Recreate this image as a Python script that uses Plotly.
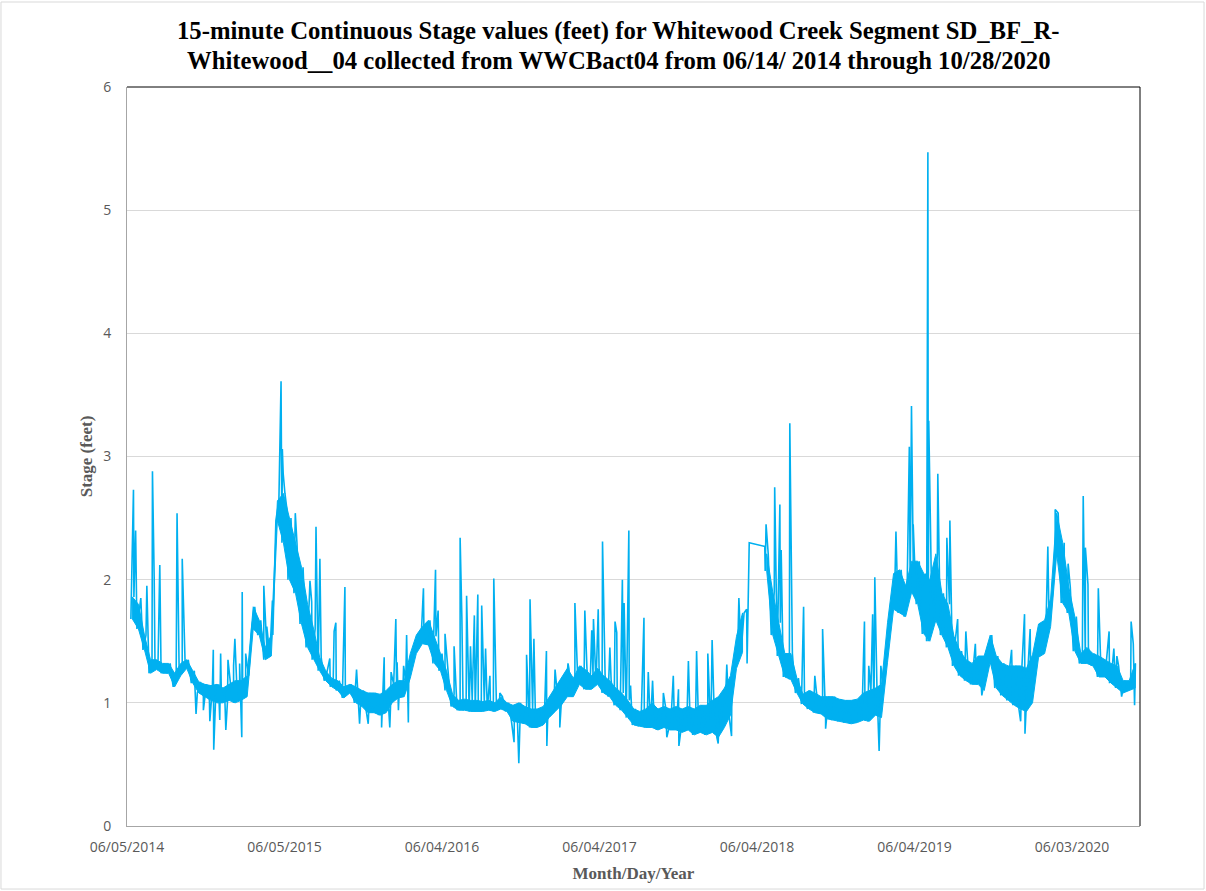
import pandas as pd
import plotly.graph_objects as go

# Record period of the WWCBact04 logger
record_start = pd.Timestamp("2014-06-14")
record_end = pd.Timestamp("2020-10-28")

# Stage envelope (feet) for each 14-day window of the record:
# lower and upper bound of the bulk of the 15-minute readings in that window.
# None marks windows with no logged readings.
band_low = [
    1.68, 1.60, 1.43, 1.24, 1.27, 1.24, 1.24, 1.13, 1.22, 1.28,
    1.16, 1.08, 1.05, 1.02, 1.00, 1.00, 1.02, 1.00, 1.02, 1.05,
    1.60, 1.55, 1.35, 1.38, 2.48, 2.30, 2.00, 1.89, 1.64, 1.45,
    1.35, 1.26, 1.18, 1.13, 1.10, 1.04, 1.08, 1.00, 0.97, 0.92,
    0.92, 0.90, 0.92, 1.00, 1.04, 1.05, 1.20, 1.40, 1.48, 1.47,
    1.32, 1.26, 1.10, 0.97, 0.94, 0.94, 0.93, 0.93, 0.93, 0.94,
    0.93, 0.95, 0.93, 0.85, 0.84, 0.83, 0.80, 0.80, 0.82, 0.88,
    0.93, 0.98, 1.05, 1.05, 1.15, 1.11, 1.11, 1.15, 1.08, 1.05,
    0.98, 0.94, 0.88, 0.82, 0.81, 0.80, 0.80, 0.78, 0.80, 0.78,
    0.78, 0.76, 0.78, 0.74, 0.76, 0.74, 0.76, 0.72, 0.80, 0.90,
    1.28, 1.41, 1.32, None, None, 2.07, 1.55, 1.38, 1.21, 1.19,
    1.08, 0.99, 0.95, 0.92, 0.91, 0.87, 0.86, 0.85, 0.84, 0.83,
    0.84, 0.86, 0.85, 0.90, 0.88, 1.33, 1.76, 1.73, 1.70, 1.90,
    1.80, 1.56, 1.50, 1.67, 1.55, 1.45, 1.30, 1.22, 1.18, 1.15,
    1.15, 1.10, 1.33, 1.12, 1.06, 1.02, 0.98, 0.95, 0.93, 1.00,
    1.37, 1.40, 1.62, 2.21, 1.81, 1.73, 1.42, 1.32, 1.32, 1.30,
    1.21, 1.21, 1.16, 1.12, 1.08, 1.10, 1.12,
]
band_high = [
    1.86, 1.80, 1.55, 1.35, 1.35, 1.32, 1.32, 1.24, 1.32, 1.35,
    1.26, 1.17, 1.15, 1.14, 1.15, 1.12, 1.15, 1.18, 1.18, 1.22,
    1.78, 1.67, 1.45, 1.55, 2.64, 2.70, 2.50, 2.29, 2.10, 1.80,
    1.60, 1.37, 1.26, 1.20, 1.18, 1.13, 1.15, 1.13, 1.10, 1.08,
    1.08, 1.07, 1.10, 1.15, 1.18, 1.18, 1.40, 1.55, 1.62, 1.67,
    1.54, 1.40, 1.26, 1.07, 1.02, 1.03, 1.02, 1.02, 1.01, 1.02,
    1.00, 1.05, 1.00, 0.98, 1.00, 0.97, 0.95, 0.95, 0.97, 1.05,
    1.12, 1.20, 1.28, 1.20, 1.30, 1.27, 1.22, 1.28, 1.22, 1.18,
    1.12, 1.08, 1.02, 0.95, 0.93, 0.95, 1.00, 0.95, 0.97, 0.95,
    0.97, 0.95, 0.97, 0.95, 0.98, 0.98, 1.02, 1.05, 1.12, 1.22,
    1.54, 1.73, None, None, None, 2.21, 1.90, 1.65, 1.40, 1.40,
    1.20, 1.07, 1.10, 1.08, 1.05, 1.05, 1.05, 1.03, 1.02, 1.02,
    1.03, 1.08, 1.10, 1.12, 1.15, 1.65, 2.05, 2.08, 1.95, 2.15,
    2.15, 2.05, 2.00, 2.21, 1.89, 1.80, 1.54, 1.42, 1.35, 1.32,
    1.38, 1.38, 1.55, 1.38, 1.32, 1.30, 1.30, 1.30, 1.28, 1.39,
    1.64, 1.67, 1.85, 2.54, 2.30, 1.94, 1.70, 1.40, 1.45, 1.40,
    1.38, 1.35, 1.32, 1.30, 1.18, 1.18, 1.32,
]

# Short-lived events: storm peaks, drops and level jumps (day of record, feet)
event_day = [
    6, 11, 23, 37, 50, 54, 67, 107, 110, 119,
    151, 168, 183, 191, 192, 206, 208, 220, 225, 238,
    241, 252, 257, 258, 266, 308, 315, 328, 348, 351,
    353, 362, 369, 381, 415, 419, 429, 438, 461, 471,
    475, 496, 523, 530, 550, 581, 587, 600, 603, 614,
    617, 620, 632, 639, 643, 678, 706, 712, 728, 749,
    763, 767, 778, 787, 796, 804, 813, 822, 832, 841,
    855, 888, 899, 917, 925, 934, 963, 964, 983, 994,
    1013, 1029, 1052, 1068, 1072, 1083, 1093, 1110, 1122, 1126,
    1139, 1143, 1154, 1158, 1189, 1199, 1209, 1234, 1242, 1257,
    1269, 1270, 1292, 1311, 1337, 1347, 1361, 1381, 1392, 1409,
    1427, 1433, 1469, 1472, 1492, 1504, 1507, 1527, 1559, 1585,
    1603, 1610, 1700, 1710, 1719, 1724, 1734, 1738, 1773, 1804,
    1809, 1813, 1844, 1847, 1849, 1870, 1891, 1898, 1916, 1935,
    1957, 1972, 2041, 2062, 2071, 2072, 2084, 2125, 2142, 2163,
    2172, 2207, 2212, 2218, 2242, 2267, 2278, 2285, 2296, 2318,
    2323, 2326, 2328,
]
event_stage = [
    2.73, 2.40, 1.85, 1.95, 2.88, 2.02, 2.12, 2.54, 1.64, 2.17,
    0.91, 0.94, 0.85, 1.43, 0.62, 0.86, 1.40, 0.78, 1.35, 1.30,
    1.52, 1.32, 0.72, 1.90, 1.40, 1.95, 1.62, 1.83, 3.61, 3.06,
    2.86, 2.56, 2.29, 2.54, 1.99, 1.82, 2.43, 2.17, 1.36, 1.58,
    1.65, 1.94, 1.27, 0.83, 0.83, 0.80, 1.37, 0.80, 1.25, 1.68,
    1.33, 0.94, 1.30, 1.55, 0.84, 1.93, 2.08, 1.75, 1.56, 1.46,
    2.34, 1.70, 1.87, 1.46, 1.71, 1.88, 1.79, 1.44, 1.22, 2.01,
    1.08, 0.68, 0.51, 1.39, 1.84, 1.52, 1.42, 0.65, 1.27, 0.80,
    1.32, 1.81, 1.75, 1.59, 1.68, 1.76, 2.31, 1.45, 1.66, 1.57,
    2.00, 1.81, 2.40, 1.14, 1.69, 1.25, 1.18, 1.08, 0.72, 1.22,
    1.11, 0.65, 1.34, 1.42, 1.40, 1.51, 0.67, 1.31, 0.73, 1.85,
    1.76, 2.30, 2.27, 2.45, 2.75, 2.61, 2.24, 3.27, 1.78, 1.22,
    1.60, 0.79, 1.66, 1.30, 1.72, 2.02, 0.61, 1.30, 2.39, 3.08,
    3.41, 2.45, 1.50, 5.47, 3.29, 2.86, 2.34, 2.48, 1.68, 1.58,
    1.48, 1.06, 1.43, 0.85, 1.72, 0.75, 1.60, 2.27, 2.57, 2.13,
    2.13, 2.68, 2.26, 1.96, 1.93, 1.58, 1.44, 1.38, 1.05, 1.66,
    1.48, 0.98, 1.32,
]

# Axis tick dates and range
tick_dates = ["2014-06-05", "2015-06-05", "2016-06-04", "2017-06-04",
              "2018-06-04", "2019-06-04", "2020-06-03"]
x_range = ["2014-06-05", "2020-11-07 14:00"]

title_lines = [
    "15-minute Continuous Stage values (feet) for Whitewood Creek Segment SD_BF_R-",
    "Whitewood__04 collected from WWCBact04 from 06/14/ 2014 through 10/28/2020",
]

line_blue = "#00B0F0"
last_day = (record_end - record_start).days


def day_to_date(d):
    return record_start + pd.Timedelta(days=d)


# Continuous record: each window runs from its low to its high,
# with the events merged in time order.
points = []
for k, (lo, hi) in enumerate(zip(band_low, band_high)):
    if lo is not None:
        points.append((14 * k, lo))
    if hi is not None and 14 * k + 7 <= last_day:
        points.append((14 * k + 7, hi))
points += list(zip(event_day, event_stage))
points.sort(key=lambda p: p[0])

dates = [day_to_date(d) for d, _ in points]
stage = [v for _, v in points]

# Dense body of the readings: a ribbon between the window lows and highs
# (placed at each window's midpoint), one ribbon per run of complete windows.
env_x, env_y = [], []
run = []
for k, (lo, hi) in enumerate(list(zip(band_low, band_high)) + [(None, None)]):
    if lo is not None and hi is not None:
        run.append((min(14 * k + 3.5, last_day), lo, hi))
        continue
    if len(run) > 1:
        upper = [(d, h) for d, _, h in run]
        lower = [(d, l) for d, l, _ in reversed(run)]
        for d, v in upper + lower + [upper[0]]:
            env_x.append(day_to_date(d))
            env_y.append(v)
        env_x.append(None)
        env_y.append(None)
    run = []

fig = go.Figure()
fig.add_trace(
    go.Scatter(
        x=env_x,
        y=env_y,
        mode="lines",
        fill="toself",
        fillcolor=line_blue,
        line=dict(color=line_blue, width=1),
        hoverinfo="skip",
    )
)
fig.add_trace(
    go.Scatter(
        x=dates,
        y=stage,
        mode="lines",
        line=dict(color=line_blue, width=1.6),
        hovertemplate="%{x|%m/%d/%Y}<br>%{y:.2f} ft<extra></extra>",
    )
)

axis_gray = "#595959"
fig.update_layout(
    width=1206,
    height=891,
    margin=dict(l=127, r=66, t=87, b=65),
    paper_bgcolor="white",
    plot_bgcolor="white",
    showlegend=False,
    xaxis=dict(
        type="date",
        range=x_range,
        tickvals=tick_dates,
        tickformat="%m/%d/%Y",
        showgrid=False,
        showline=True,
        linecolor="#A6A6A6",
        linewidth=1,
        zeroline=False,
        ticks="",
        ticklabelstandoff=8,
        tickfont=dict(family="Open Sans", size=14, color=axis_gray),
        title=dict(text="<b>Month/Day/Year</b>", standoff=12,
                   font=dict(family="Liberation Serif", size=17, color=axis_gray)),
    ),
    yaxis=dict(
        range=[0, 6],
        dtick=1,
        showgrid=True,
        gridcolor="#D9D9D9",
        gridwidth=1,
        showline=True,
        linecolor="#A6A6A6",
        linewidth=1,
        zeroline=False,
        ticks="",
        ticklabelstandoff=12,
        tickfont=dict(family="Open Sans", size=14, color=axis_gray),
        title=dict(text="<b>Stage (feet)</b>", standoff=6,
                   font=dict(family="Liberation Serif", size=17, color=axis_gray)),
    ),
    annotations=[
        dict(text=f"<b>{line}</b>", xref="paper", yref="paper",
             x=0.4852, y=y, xanchor="center", yanchor="middle", showarrow=False,
             font=dict(family="Liberation Serif", size=24.7, color="black"))
        for line, y in zip(title_lines, [1.0758, 1.0352])
    ],
    shapes=[
        # plot-area frame on the top and right sides
        dict(type="line", xref="paper", yref="paper", x0=0, x1=1, y0=1, y1=1,
             line=dict(color="black", width=1)),
        dict(type="line", xref="paper", yref="paper", x0=1, x1=1, y0=0, y1=1,
             line=dict(color="black", width=1)),
        # chart-area border
        dict(type="rect", xref="paper", yref="paper",
             x0=-0.1244, x1=1.0632, y0=-0.0853, y1=1.1150,
             line=dict(color="#D9D9D9", width=1), layer="below"),
    ],
)

fig.write_html("out.html")
